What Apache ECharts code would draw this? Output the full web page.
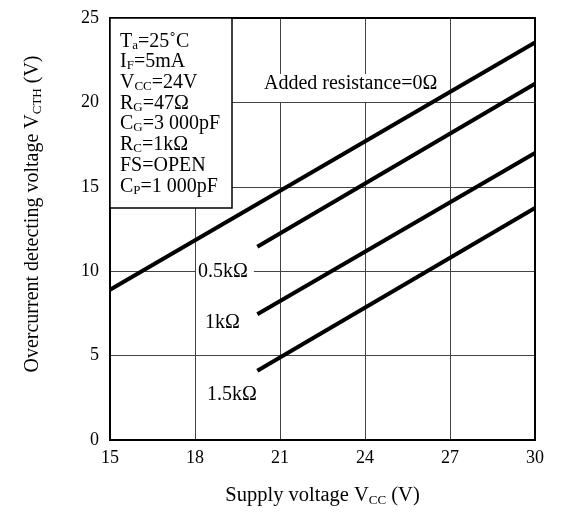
<!DOCTYPE html>
<html>
<head>
<meta charset="utf-8">
<script src="https://cdn.jsdelivr.net/npm/echarts@6/dist/echarts.min.js"></script>
<style>
    html, body {margin: 0; padding: 0; background: #fff;}
    #chart {width: 561px; height: 512px;}
</style>
</head>
<body>
<div id="chart"></div>
<script>
// x ticks / y ticks
const xTicks = [15, 18, 21, 24, 27, 30];
const yTicks = [0, 5, 10, 15, 20, 25];

// [Vcc, Vcth]
const line0 = [[15, 8.9], [30, 23.55]];
const line05k = [[20.2, 11.45], [30, 21.1]];
const line1k = [[20.2, 7.45], [30, 17.0]];
const line15k = [[20.2, 4.1], [30, 13.75]];

const conditions = [
    'T{s|a}=25˚C',
    'I{s|F}=5mA',
    'V{s|CC}=24V',
    'R{s|G}=47Ω',
    'C{s|G}=3 000pF',
    'R{s|C}=1kΩ',
    'FS=OPEN',
    'C{s|P}=1 000pF'
];

const serif = '"Liberation Serif", "DejaVu Serif", serif';

let chart = echarts.init(document.getElementById('chart'), null, {renderer: 'canvas'});

function mkLine(name, data) {
    return {
        name: name,
        type: 'line',
        data: data,
        symbol: 'none',
        silent: true,
        z: 3,
        lineStyle: {color: '#000', width: 4}
    };
}

let subRich = {
    s: {fontSize: 13, fontFamily: serif, color: '#000', verticalAlign: 'bottom', lineHeight: 22}
};

let option = {
    animation: false,
    backgroundColor: '#fff',
    grid: {
        left: 110,
        right: 26,
        top: 18,
        bottom: 68,
        show: true,
        borderColor: '#000',
        borderWidth: 2,
        z: 4
    },
    xAxis: {
        type: 'value',
        min: xTicks[0],
        max: xTicks[xTicks.length - 1],
        interval: 3,
        name: 'Supply voltage V{s|CC} (V)',
        nameLocation: 'middle',
        nameGap: 45,
        nameTextStyle: {
            fontFamily: serif, fontSize: 20.5, color: '#000',
            lineHeight: 22,
            rich: subRich
        },
        axisLine: {show: false},
        axisTick: {show: false},
        axisLabel: {fontFamily: serif, fontSize: 18, color: '#000', margin: 9},
        splitLine: {show: true, lineStyle: {color: '#444', width: 1}}
    },
    yAxis: {
        type: 'value',
        min: yTicks[0],
        max: yTicks[yTicks.length - 1],
        interval: 5,
        name: 'Overcurrent detecting voltage V{s|CTH} (V)',
        nameLocation: 'middle',
        nameGap: 66,
        nameTextStyle: {
            fontFamily: serif, fontSize: 20, color: '#000',
            lineHeight: 22,
            padding: [0, 0, 0, 30],
            rich: subRich
        },
        axisLine: {show: false},
        axisTick: {show: false},
        axisLabel: {fontFamily: serif, fontSize: 18, color: '#000', margin: 11},
        splitLine: {show: true, lineStyle: {color: '#444', width: 1}}
    },
    series: [
        mkLine('0', line0),
        mkLine('0.5k', line05k),
        mkLine('1k', line1k),
        mkLine('1.5k', line15k)
    ],
    graphic: [
        {
            type: 'rect',
            shape: {x: 110, y: 18, width: 122, height: 190},
            style: {fill: '#fff', stroke: '#000', lineWidth: 1.5},
            z: 5
        },
        {
            type: 'text',
            x: 120,
            y: 31,
            z: 6,
            style: {
                text: conditions.join('\n'),
                fontFamily: serif,
                fontSize: 20,
                lineHeight: 20.7,
                fill: '#000',
                rich: {
                    s: {fontSize: 13, fontFamily: serif, verticalAlign: 'bottom', lineHeight: 20.7}
                }
            }
        },
        {
            // sits under the curves, over the grid lines
            type: 'text',
            x: 262,
            y: 74,
            z: 1,
            style: {
                text: 'Added resistance=0Ω',
                fontFamily: serif, fontSize: 20, fill: '#000',
                backgroundColor: '#fff',
                padding: [0, 2, 8, 2]
            }
        },
        {
            type: 'text',
            x: 196,
            y: 262,
            z: 1,
            style: {
                text: '0.5kΩ',
                fontFamily: serif, fontSize: 20, fill: '#000',
                backgroundColor: '#fff',
                padding: [0, 6, 0, 2]
            }
        },
        {
            type: 'text',
            x: 205,
            y: 313,
            z: 1,
            style: {text: '1kΩ', fontFamily: serif, fontSize: 20, fill: '#000'}
        },
        {
            type: 'text',
            x: 207,
            y: 385,
            z: 1,
            style: {text: '1.5kΩ', fontFamily: serif, fontSize: 20, fill: '#000'}
        }
    ]
};

chart.setOption(option);
</script>
</body>
</html>
